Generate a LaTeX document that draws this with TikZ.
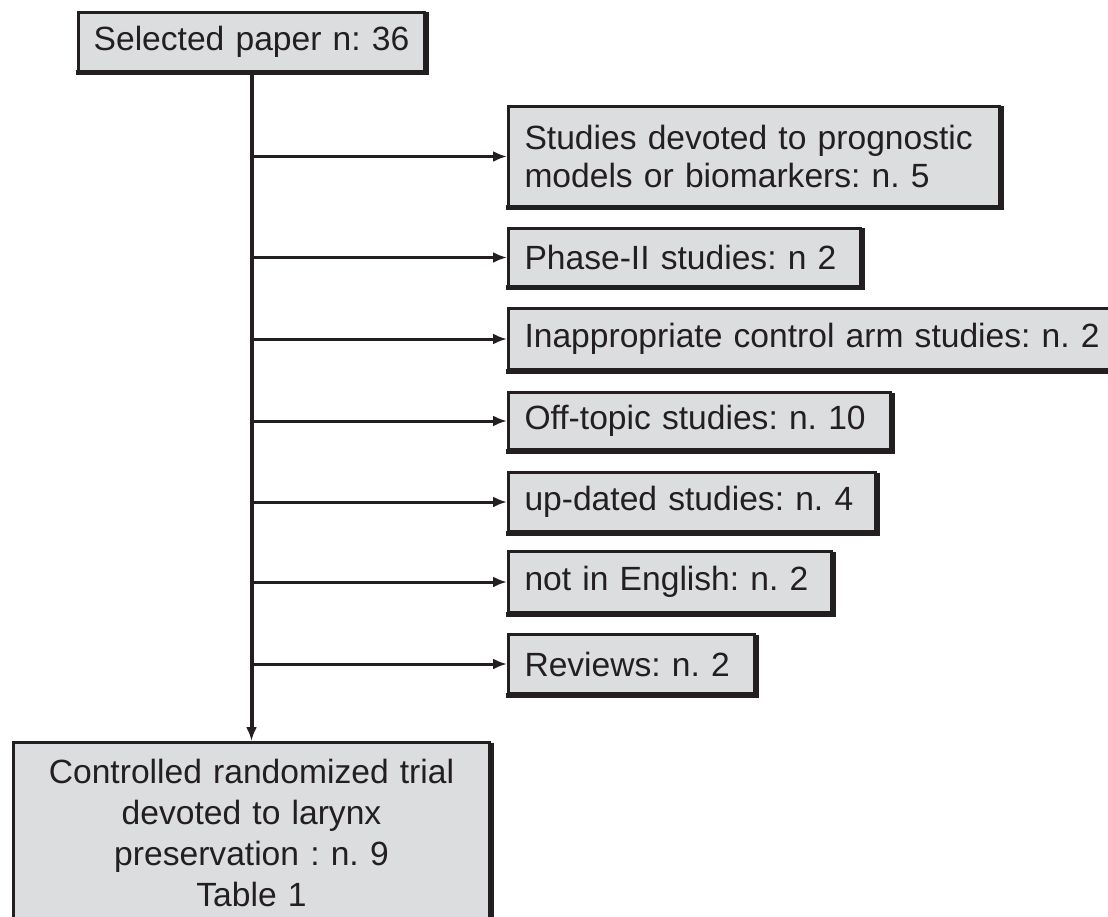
\documentclass[tikz,border=0pt]{standalone}
\usepackage{fontspec}
\setmainfont{Liberation Sans}
\usetikzlibrary{arrows.meta}
\definecolor{ink}{HTML}{231F20}
\definecolor{boxfill}{HTML}{DCDDDF}
\begin{document}
\begin{tikzpicture}[x=1pt,y=-1pt,
  box/.style={draw=ink, fill=boxfill, line width=3pt, inner xsep=16pt, inner ysep=0pt,
    anchor=north west, align=left, text=ink, font=\fontsize{33.6}{38}\selectfont,
    execute at begin node={\frenchspacing\hyphenpenalty=10000}},
  link/.style={draw=ink, line width=3pt, -{Latex[length=14pt,width=11pt]}},
  rim/.style={draw=ink, line width=5pt, line cap=butt, line join=miter}]
\useasboundingbox (0,0) rectangle (1108,917);
\fill[white] (0,0) rectangle (1108,917);
\begin{scope}
\clip (0,0) rectangle (1108,917);
% source and result boxes
\node[box, inner xsep=8pt, text width=330pt, minimum height=59pt, align=center] (sel) at (77,11)
  {Selected paper n: 36};
\node[box, text width=444pt, minimum height=180pt, align=center,
      font=\fontsize{33.6}{41}\selectfont] (res) at (12,741)
  {Controlled randomized trial\\devoted to larynx\\preservation : n. 9\\Table 1};
% excluded groups
\node[box, text width=459pt, minimum height=100pt] (b1) at (507,105)
  {Studies devoted to prognostic\\models or biomarkers: n. 5};
\node[box, text width=320pt, minimum height=58pt] (b2) at (507,227) {Phase-II studies: n 2};
\node[box, text width=600pt, minimum height=61pt] (b3) at (507,307) {Inappropriate control arm studies: n. 2};
\node[box, text width=350pt, minimum height=57pt] (b4) at (507,391) {Off-topic studies: n. 10};
\node[box, text width=335pt, minimum height=59pt] (b5) at (507,471) {up-dated studies: n. 4};
\node[box, text width=291pt, minimum height=61pt] (b6) at (507,550) {not in English: n. 2};
\node[box, text width=214pt, minimum height=59pt] (b7) at (507,633) {Reviews: n. 2};
% heavier bottom and right edges
\foreach \b in {sel,b1,b2,b3,b4,b5,b6,b7}
  \draw[rim] ([xshift=-1.5pt]\b.south west) -- (\b.south east) -- ([yshift=-1.5pt]\b.north east);
\draw[rim] ([yshift=-1.5pt]res.north east) -- (res.south east);
% connectors
\draw[link, line width=4pt] (sel.south) -- (res.north);
\foreach \b in {b1,b2,b3,b4,b5,b6,b7}
  \draw[link] (sel.south |- \b.west) -- (\b.west);
\end{scope}
\end{tikzpicture}
\end{document}
